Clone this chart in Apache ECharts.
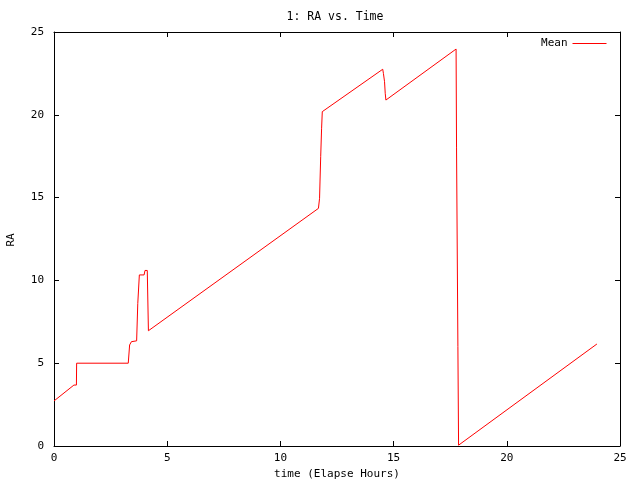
<!DOCTYPE html>
<html>
<head>
<meta charset="utf-8">
<script src="https://cdn.jsdelivr.net/npm/echarts@6/dist/echarts.min.js"></script>
<style>html,body{margin:0;padding:0;background:#fff}#c{width:640px;height:480px}</style>
</head>
<body>
<div id="c"></div>
<script>
var titleText = '1: RA vs. Time';
var xLabel = 'time (Elapse Hours)';
var yLabel = 'RA';
var seriesName = 'Mean';
var timeHours = [0, 0.88, 0.99, 1.0, 3.28, 3.34, 3.42, 3.65, 3.7, 3.77, 3.98, 4.02, 4.12, 4.17, 11.68, 11.73, 11.75, 11.78, 11.82, 11.85, 14.52, 14.55, 14.6, 14.63, 14.66, 17.76, 17.78, 17.84, 17.87, 23.98];
var raValues  = [2.72, 3.68, 3.68, 5.0, 5.0, 6.1, 6.3, 6.35, 8.6, 10.33, 10.33, 10.6, 10.6, 6.96, 14.35, 14.96, 16.0, 17.47, 19.19, 20.19, 22.75, 22.5, 22.0, 21.3, 20.89, 23.97, 18.0, 6.0, 0.05, 6.16];
var xTicks = [0, 5, 10, 15, 20, 25];
var yTicks = [0, 5, 10, 15, 20, 25];

var pts = timeHours.map(function (t, i) { return [t, raValues[i]]; });
var font = 'DejaVu Sans Mono';
var axisCommon = {
  type: 'value', min: xTicks[0], max: xTicks[xTicks.length - 1], interval: xTicks[1] - xTicks[0],
  splitLine: { show: false },
  axisLine: { show: true, onZero: false, lineStyle: { color: '#000', width: 1 } },
  axisTick: { show: true, inside: true, length: 5, lineStyle: { color: '#000' } }
};
var chart = echarts.init(document.getElementById('c'), null, { renderer: 'canvas' });
chart.setOption({
  animation: false,
  backgroundColor: '#fff',
  color: ['#ff0000'],
  title: { text: titleText, left: 330, top: 6, textAlign: 'center',
    textStyle: { fontFamily: font, fontSize: 11.5, fontWeight: 'normal', color: '#000' } },
  legend: { show: true, right: 33, top: 38, padding: 0, align: 'right', itemWidth: 34, itemHeight: 12, itemGap: 8,
    data: [{ name: seriesName }],
    itemStyle: { opacity: 0 },
    lineStyle: { color: '#ff0000', width: 1 },
    textStyle: { fontFamily: font, fontSize: 11, color: '#000', padding: [0, 0, 0, 0] } },
  grid: { left: 54, right: 20, top: 32, bottom: 34, containLabel: false, outerBoundsMode: 'none' },
  xAxis: [
    Object.assign({}, axisCommon, { position: 'bottom',
      name: xLabel, nameLocation: 'middle', nameGap: 20,
      nameTextStyle: { fontFamily: font, fontSize: 11, color: '#000' },
      axisLabel: { show: true, margin: 7, fontFamily: font, fontSize: 11, color: '#000' } }),
    Object.assign({}, axisCommon, { position: 'top', axisLabel: { show: false } })
  ],
  yAxis: [
    Object.assign({}, axisCommon, { min: yTicks[0], max: yTicks[yTicks.length - 1], interval: yTicks[1] - yTicks[0], position: 'left',
      axisLabel: { show: true, margin: 10, fontFamily: font, fontSize: 11, color: '#000' } }),
    Object.assign({}, axisCommon, { min: yTicks[0], max: yTicks[yTicks.length - 1], interval: yTicks[1] - yTicks[0], position: 'right',
      axisLabel: { show: false } })
  ],
  graphic: [{ type: 'text', x: 11, y: 240, rotation: Math.PI / 2,
    style: { text: yLabel, fontFamily: font, fontSize: 11, fill: '#000', align: 'center', verticalAlign: 'middle' } }],
  series: [{
    name: seriesName, type: 'line', data: pts, xAxisIndex: 0, yAxisIndex: 0,
    showSymbol: false, symbol: 'none',
    lineStyle: { color: '#ff0000', width: 1 }, itemStyle: { color: '#ff0000' }
  }]
});
</script>
</body>
</html>
